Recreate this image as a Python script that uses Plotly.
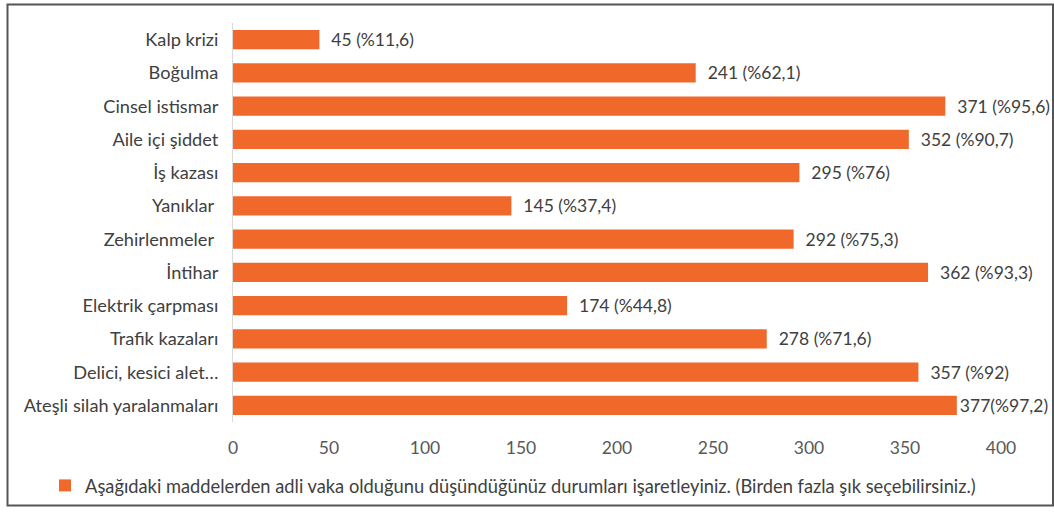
import plotly.graph_objects as go

categories = ["Kalp krizi", "Boğulma", "Cinsel istismar", "Aile içi şiddet", "İş kazası",
              "Yanıklar ", "Zehirlenmeler ", "İntihar", "Elektrik çarpması", "Trafik kazaları",
              "Delici, kesici alet…", "Ateşli silah yaralanmaları"]
values = [45, 241, 371, 352, 295, 145, 292, 362, 174, 278, 357, 377]
value_labels = ["45 (%11,6)", "241 (%62,1)", "371 (%95,6)", "352 (%90,7)", "295 (%76)",
                "145 (%37,4)", "292 (%75,3)", "362 (%93,3)", "174 (%44,8)", "278 (%71,6)",
                "357 (%92)", "377(%97,2)"]
x_ticks = [0, 50, 100, 150, 200, 250, 300, 350, 400]
series_name = ("Aşağıdaki maddelerden adli vaka olduğunu düşündüğünüz durumları işaretleyiniz. "
               "(Birden fazla şık seçebilirsiniz.)")

FONT = "Lato"
TXT = "#404040"
BAR = "#F0692B"

# padding before the value labels (the last one sits right against its bar)
pads = ["  "] * (len(value_labels) - 1) + [""]

fig = go.Figure()
fig.add_trace(go.Bar(
    y=categories, x=values, orientation="h", name=series_name,
    marker=dict(color=BAR, line=dict(width=0)),
    text=[p + t for p, t in zip(pads, value_labels)], textposition="outside", cliponaxis=False,
    constraintext="none",
    textfont=dict(family=FONT, size=17.5, color=TXT),
    showlegend=True,
))

W, H = 1054, 512
ml, mr, mt, mb = 233, 53, 23, 90
pw, ph = W - ml - mr, H - mt - mb

def px(x):
    return (x - ml) / pw

def py(y):
    return 1 - (y - mt) / ph

fig.update_layout(
    width=W, height=H,
    margin=dict(l=ml, r=mr, t=mt, b=mb, autoexpand=False),
    paper_bgcolor="white", plot_bgcolor="white",
    font=dict(family=FONT, size=17.5, color=TXT),
    bargap=0.42,
    xaxis=dict(range=[0, 400], tickvals=x_ticks, showgrid=False, zeroline=False,
               showline=False, ticks="", ticklabelstandoff=13,
               tickfont=dict(family=FONT, size=17.5, color="#595959")),
    yaxis=dict(autorange="reversed", showgrid=False, zeroline=False,
               showline=True, linecolor="#D9D9D9", linewidth=1, ticks="",
               ticklabelstandoff=10,
               tickfont=dict(family=FONT, size=18.2, color=TXT)),
    legend=dict(orientation="h", x=0.5 * (px(62) + px(980)) - 8 / pw, xanchor="center",
                y=py(467), yanchor="top", font=dict(family=FONT, size=18.3, color=TXT),
                bgcolor="rgba(0,0,0,0)", itemwidth=30),
    shapes=[dict(type="rect", xref="paper", yref="paper",
                 x0=px(7.5), x1=px(1053), y0=py(505.5), y1=py(4.5),
                 line=dict(color="#555555", width=2), layer="above")],
)

fig.write_html("out.html", config={"displayModeBar": False},
               post_script="document.body.style.margin='0';document.body.style.overflow='hidden';")
